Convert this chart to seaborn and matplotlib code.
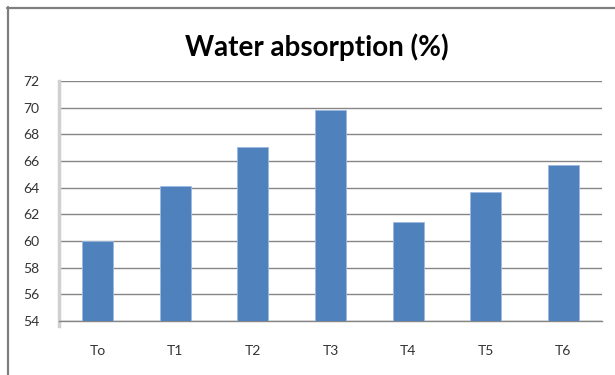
import matplotlib
matplotlib.use("Agg")
import matplotlib.pyplot as plt
from matplotlib.lines import Line2D
import seaborn as sns
import pandas as pd

treatments = ["To", "T1", "T2", "T3", "T4", "T5", "T6"]
absorption = [60.0, 64.1, 67.05, 69.8, 61.4, 63.7, 65.7]
y_ticks = [54, 56, 58, 60, 62, 64, 66, 68, 70, 72]

sns.set_style("white")
plt.rcParams["font.family"] = ["Lato", "DejaVu Sans"]

df = pd.DataFrame({"treatment": treatments, "absorption": absorption})

fig = plt.figure(figsize=(6.15, 3.75), dpi=100)
ax = fig.add_axes([59 / 615, 1 - 321 / 375, (602 - 59) / 615, (321 - 81) / 375])

sns.barplot(data=df, x="treatment", y="absorption", color="#4F81BD",
            width=0.4, saturation=1, ax=ax, zorder=3,
            edgecolor="#9DB9E0", linewidth=0.6)

ax.set_ylim(54, 72)
ax.set_xlim(-0.5, len(treatments) - 0.5)
ax.set_yticks(y_ticks)
ax.set_yticklabels([str(v) for v in y_ticks], fontsize=10, color="#333333")
ax.set_xlabel("")
ax.set_ylabel("")

# horizontal gridlines, extended slightly to the left of the value axis
ax.yaxis.grid(True, color="#868686", linewidth=1.0, zorder=0)
ax.tick_params(axis="y", length=5, color="#868686", width=1.0, pad=9)

# category labels and boundary ticks
ax.set_xticks(range(len(treatments)))
ax.set_xticklabels(treatments, fontsize=10, color="#333333")
ax.set_xticks([i - 0.5 for i in range(len(treatments) + 1)], minor=True)
ax.tick_params(axis="x", which="major", length=0, pad=17)
ax.tick_params(axis="x", which="minor", length=6, color="#C8C8C8", width=1.5)

for side in ["top", "right"]:
    ax.spines[side].set_visible(False)
ax.spines["bottom"].set_color("#868686")
ax.spines["bottom"].set_linewidth(1.0)
ax.spines["left"].set_color("#D0D0D0")
ax.spines["left"].set_linewidth(2.5)
ax.spines["left"].set_bounds(53.6, 72)

fig.text(317 / 615, 1 - 47 / 375, "Water absorption (%)", ha="center", va="center",
         fontsize=20, fontweight="bold", color="#000000")

# chart frame along the top and left edges
fig.add_artist(Line2D([7 / 615, 1], [1 - 7.5 / 375, 1 - 7.5 / 375],
                      transform=fig.transFigure, color="#7F7F7F", linewidth=1.6))
fig.add_artist(Line2D([7.5 / 615, 7.5 / 615], [0, 1 - 7 / 375],
                      transform=fig.transFigure, color="#7F7F7F", linewidth=1.6))

fig.savefig("out.png", dpi=100)
